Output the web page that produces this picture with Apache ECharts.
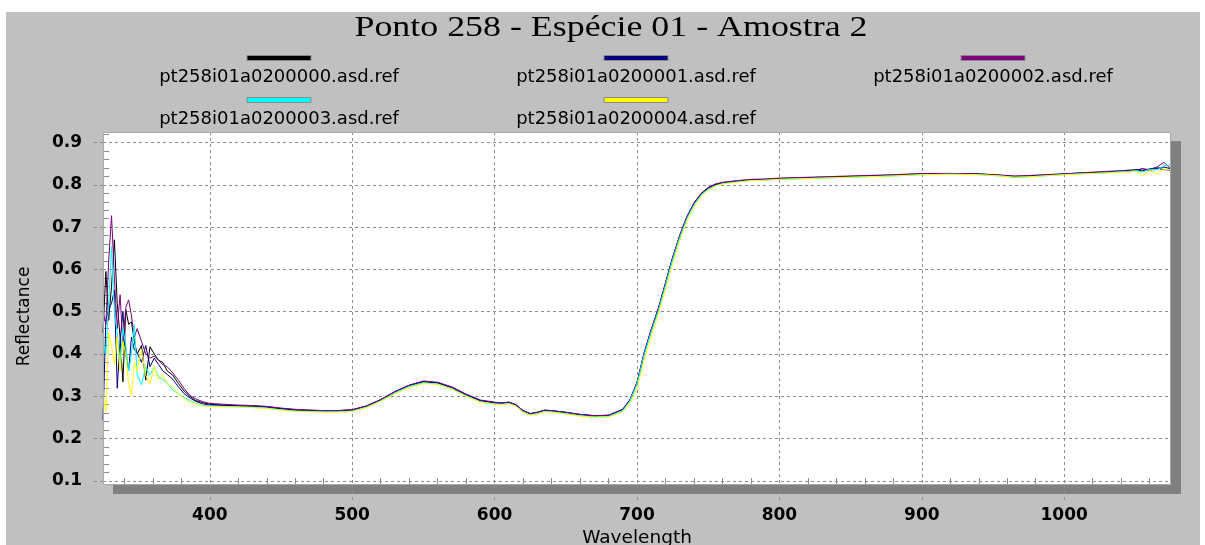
<!DOCTYPE html>
<html>
<head>
<meta charset="utf-8">
<script src="https://cdn.jsdelivr.net/npm/echarts@6/dist/echarts.min.js"></script>
<style>
  html, body { margin: 0; padding: 0; background: #ffffff; }
  #chart { position: absolute; left: 6px; top: 12px; width: 1194px; height: 533px; }
</style>
</head>
<body>
<div id="chart"></div>
<script>
// ---- chart text ----
const titleText = 'Ponto 258 - Espécie 01 - Amostra 2';
const xName = 'Wavelength';
const yName = 'Reflectance';
const seriesNames = [
  'pt258i01a0200000.asd.ref',
  'pt258i01a0200001.asd.ref',
  'pt258i01a0200002.asd.ref',
  'pt258i01a0200003.asd.ref',
  'pt258i01a0200004.asd.ref'
];
const seriesColors = ['#000000', '#000080', '#800080', '#00ffff', '#ffff00'];

// ---- axis ticks ----
const xTicks = [400, 500, 600, 700, 800, 900, 1000];
const yTicks = [0.1, 0.2, 0.3, 0.4, 0.5, 0.6, 0.7, 0.8, 0.9];

// ---- wavelengths (nm) shared by all spectra ----
const wavelengths = [
  325, 327, 329, 331, 333, 335, 337, 339, 341, 343, 345, 347, 349,
  352, 355, 358, 361, 364, 367, 370, 374, 378, 382, 386, 390, 395, 400,
  410, 420, 430, 440, 450, 460, 470, 480, 490, 500,
  510, 520, 530, 540, 550, 560, 570, 580, 590, 600,
  605, 610, 615, 620, 625, 630, 635, 640,
  650, 660, 670, 680, 690,
  695, 700, 705, 710, 715, 720, 725, 730, 735, 740, 745, 750, 755, 760,
  770, 780, 790, 800, 820, 840, 860, 880, 900, 920, 940, 955, 965, 975, 985,
  1000, 1010, 1020, 1030, 1040, 1045, 1050, 1055, 1060, 1065, 1070, 1075
];

// ---- reflectance of each file ----
const ref0 = [
  0.45, 0.595, 0.48, 0.56, 0.67, 0.52, 0.44, 0.334, 0.505, 0.47, 0.476, 0.43, 0.40,
  0.42, 0.338, 0.417, 0.40, 0.385, 0.38, 0.36, 0.35, 0.33, 0.312, 0.30, 0.29, 0.285, 0.281,
  0.279, 0.278, 0.277, 0.275, 0.271, 0.268, 0.267, 0.266, 0.266, 0.268,
  0.277, 0.292, 0.311, 0.326, 0.335, 0.332, 0.321, 0.304, 0.290, 0.285,
  0.284, 0.286, 0.280, 0.266, 0.259, 0.262, 0.267, 0.266,
  0.262, 0.257, 0.254, 0.255, 0.269,
  0.291, 0.332, 0.402, 0.458, 0.508, 0.568, 0.628, 0.680, 0.724, 0.757, 0.779, 0.793, 0.801, 0.805,
  0.809, 0.812, 0.813, 0.815, 0.817, 0.819, 0.821, 0.823, 0.826, 0.827, 0.826, 0.823, 0.820, 0.821, 0.823,
  0.826, 0.828, 0.829, 0.831, 0.833, 0.834, 0.836, 0.833, 0.838, 0.840, 0.836, 0.835
];
const ref1 = [
  0.244, 0.48, 0.505, 0.52, 0.551, 0.319, 0.43, 0.50, 0.40, 0.36, 0.44, 0.41, 0.403,
  0.38, 0.42, 0.37, 0.39, 0.375, 0.36, 0.352, 0.34, 0.322, 0.306, 0.296, 0.288, 0.282, 0.279,
  0.278, 0.277, 0.276, 0.274, 0.270, 0.267, 0.266, 0.265, 0.265, 0.267,
  0.276, 0.291, 0.310, 0.325, 0.334, 0.331, 0.320, 0.303, 0.289, 0.284,
  0.283, 0.285, 0.279, 0.265, 0.258, 0.261, 0.266, 0.265,
  0.261, 0.256, 0.253, 0.254, 0.268,
  0.290, 0.330, 0.400, 0.455, 0.505, 0.565, 0.625, 0.678, 0.722, 0.755, 0.778, 0.792, 0.800, 0.804,
  0.808, 0.811, 0.812, 0.814, 0.816, 0.818, 0.820, 0.822, 0.825, 0.826, 0.825, 0.822, 0.818, 0.820, 0.822,
  0.825, 0.827, 0.828, 0.829, 0.832, 0.833, 0.835, 0.838, 0.834, 0.839, 0.842, 0.838
];
const ref2 = [
  0.50, 0.47, 0.62, 0.727, 0.58, 0.46, 0.54, 0.42, 0.51, 0.528, 0.49, 0.44, 0.46,
  0.43, 0.40, 0.39, 0.395, 0.385, 0.375, 0.37, 0.355, 0.338, 0.318, 0.302, 0.294, 0.287, 0.283,
  0.281, 0.279, 0.278, 0.276, 0.272, 0.269, 0.267, 0.266, 0.266, 0.268,
  0.277, 0.292, 0.311, 0.326, 0.336, 0.333, 0.322, 0.305, 0.291, 0.286,
  0.284, 0.286, 0.280, 0.266, 0.259, 0.262, 0.267, 0.266,
  0.262, 0.257, 0.254, 0.255, 0.269,
  0.292, 0.333, 0.403, 0.458, 0.508, 0.568, 0.628, 0.681, 0.725, 0.757, 0.780, 0.794, 0.802, 0.806,
  0.810, 0.813, 0.814, 0.816, 0.818, 0.820, 0.822, 0.824, 0.827, 0.827, 0.826, 0.823, 0.821, 0.822, 0.824,
  0.826, 0.828, 0.830, 0.832, 0.833, 0.835, 0.833, 0.838, 0.836, 0.842, 0.853, 0.838
];
const ref3 = [
  0.43, 0.40, 0.52, 0.654, 0.50, 0.45, 0.38, 0.46, 0.42, 0.36, 0.40, 0.47, 0.35,
  0.327, 0.37, 0.35, 0.37, 0.345, 0.34, 0.33, 0.315, 0.305, 0.297, 0.29, 0.283, 0.278, 0.277,
  0.276, 0.275, 0.274, 0.272, 0.268, 0.265, 0.264, 0.263, 0.263, 0.265,
  0.274, 0.289, 0.308, 0.323, 0.332, 0.329, 0.318, 0.301, 0.287, 0.282,
  0.281, 0.283, 0.277, 0.263, 0.256, 0.259, 0.264, 0.263,
  0.259, 0.254, 0.251, 0.252, 0.266,
  0.289, 0.329, 0.398, 0.453, 0.503, 0.563, 0.623, 0.676, 0.720, 0.753, 0.776, 0.790, 0.798, 0.803,
  0.807, 0.810, 0.811, 0.813, 0.815, 0.817, 0.819, 0.821, 0.824, 0.825, 0.824, 0.821, 0.818, 0.819, 0.821,
  0.824, 0.826, 0.827, 0.829, 0.831, 0.831, 0.834, 0.830, 0.837, 0.835, 0.845, 0.848
];
const ref4 = [
  0.31, 0.263, 0.45, 0.42, 0.374, 0.44, 0.36, 0.43, 0.40, 0.33, 0.303, 0.38, 0.36,
  0.41, 0.35, 0.33, 0.37, 0.34, 0.35, 0.33, 0.32, 0.305, 0.295, 0.287, 0.282, 0.277, 0.276,
  0.275, 0.274, 0.273, 0.271, 0.267, 0.264, 0.263, 0.262, 0.262, 0.264,
  0.273, 0.288, 0.306, 0.321, 0.330, 0.328, 0.317, 0.300, 0.286, 0.281,
  0.280, 0.282, 0.276, 0.262, 0.255, 0.258, 0.263, 0.262,
  0.258, 0.253, 0.250, 0.251, 0.263,
  0.283, 0.318, 0.385, 0.442, 0.494, 0.553, 0.613, 0.668, 0.713, 0.748, 0.773, 0.788, 0.797, 0.802,
  0.806, 0.810, 0.811, 0.813, 0.815, 0.817, 0.819, 0.821, 0.824, 0.825, 0.824, 0.821, 0.818, 0.819, 0.821,
  0.824, 0.825, 0.827, 0.828, 0.830, 0.830, 0.832, 0.822, 0.834, 0.826, 0.837, 0.836
];
const spectra = [ref0, ref1, ref2, ref3, ref4];

// ---- layout (chart canvas sits 6px right / 12px down on the page) ----
const plot = { left: 97, top: 120, width: 1068, height: 353 };
const tickOut = { x: 15, y: 9 };
const legendCols = [273, 630, 987];
const legendBarY = [46, 88];
const legendTextY = [65, 107];
const gridColor = '#8c8c8c';
const frameColor = '#a8a8a8';
const sansFont = '"DejaVu Sans", "Liberation Sans", Arial, sans-serif';
const xRange = { min: 325, max: 1075, minInterval: 100, maxInterval: 100 };
const yRange = { min: 0.09, max: 0.925, minInterval: 0.1, maxInterval: 0.1 };

const chart = echarts.init(document.getElementById('chart'), null, { renderer: 'canvas' });

// title, legend and plot frame drawn as graphic elements
const graphics = [
  { type: 'text', x: 605, y: 16, scaleX: 1.237, silent: true,
    style: { text: titleText, font: '29px "Liberation Serif", "Times New Roman", serif', fill: '#000',
             align: 'center', verticalAlign: 'middle', textAlign: 'center', textVerticalAlign: 'middle' } },
  { type: 'rect', silent: true, z: 5,
    shape: { x: plot.left + 0.5, y: plot.top + 0.5, width: plot.width - 1, height: plot.height - 1 },
    style: { fill: null, stroke: frameColor, lineWidth: 1 } }
];
seriesNames.forEach((name, i) => {
  const cx = legendCols[i % 3];
  const row = Math.floor(i / 3);
  graphics.push({
    type: 'rect', silent: true,
    shape: { x: cx - 32, y: legendBarY[row] - 2.5, width: 64, height: 5 },
    style: { fill: seriesColors[i], stroke: '#8a8a8a', lineWidth: 1 }
  });
  graphics.push({
    type: 'text', x: cx, y: legendTextY[row], silent: true,
    style: { text: name, font: '18px ' + sansFont, fill: '#000',
             align: 'center', verticalAlign: 'middle', textAlign: 'center', textVerticalAlign: 'middle' }
  });
});

const dashed = () => ({ color: gridColor, type: [3, 3], width: 1 });
const bare = { axisLine: { show: false }, axisTick: { show: false }, axisLabel: { show: false } };
const dashedGrid = { show: true, showMinLine: false, showMaxLine: false, lineStyle: dashed() };

const option = {
  animation: false,
  backgroundColor: '#c0c0c0',
  graphic: { elements: graphics },
  grid: [
    // 0: main plot, white with a hard grey drop shadow
    {
      left: plot.left, top: plot.top, width: plot.width, height: plot.height,
      show: true, backgroundColor: '#ffffff', borderWidth: 0, borderColor: 'transparent',
      shadowColor: '#808080', shadowBlur: 0, shadowOffsetX: 10, shadowOffsetY: 9,
      containLabel: false, outerBoundsMode: 'none'
    },
    // 1: overlay carrying the inward minor ticks
    { left: plot.left, top: plot.top, width: plot.width, height: plot.height,
      show: false, containLabel: false, outerBoundsMode: 'none' },
    // 2: strip left of the plot where the value gridlines run out to the labels
    { left: plot.left - tickOut.y, top: plot.top, width: tickOut.y, height: plot.height,
      show: false, containLabel: false, outerBoundsMode: 'none' },
    // 3: strip below the plot where the wavelength gridlines run out
    { left: plot.left, top: plot.top + plot.height, width: plot.width, height: tickOut.x,
      show: false, containLabel: false, outerBoundsMode: 'none' }
  ],
  xAxis: [
    Object.assign({
      type: 'value', gridIndex: 0,
      name: xName, nameLocation: 'middle', nameGap: 44,
      nameTextStyle: { fontFamily: sansFont, fontSize: 18.5, color: '#000' },
      axisLine: { show: false },
      axisTick: { show: false },
      axisLabel: { customValues: xTicks, margin: 22, fontFamily: sansFont, fontWeight: 'bold',
                   fontSize: 17, color: '#000', formatter: v => String(v) },
      splitLine: dashedGrid
    }, xRange),
    Object.assign({
      type: 'value', gridIndex: 1, position: 'bottom',
      axisLine: { show: false }, axisLabel: { show: false }, splitLine: { show: false },
      axisTick: { show: false, inside: true },
      minorTick: { show: true, splitNumber: 5, length: 7, lineStyle: { color: gridColor, width: 1 } }
    }, xRange),
    Object.assign({ type: 'value', gridIndex: 2, show: false, min: 0, max: 1, splitLine: { show: false } }, bare),
    Object.assign({ type: 'value', gridIndex: 3, z: 10, splitLine: dashedGrid }, bare, xRange)
  ],
  yAxis: [
    Object.assign({
      type: 'value', gridIndex: 0,
      name: yName, nameLocation: 'middle', nameGap: 70, nameRotate: 90,
      nameTextStyle: { fontFamily: sansFont, fontSize: 17, color: '#000', padding: [0, 16, 0, 0] },
      axisLine: { show: false },
      axisTick: { show: false },
      axisLabel: { customValues: yTicks, margin: 21, fontFamily: sansFont, fontWeight: 'bold',
                   fontSize: 17, color: '#000', formatter: v => v.toFixed(1) },
      splitLine: dashedGrid
    }, yRange),
    Object.assign({
      type: 'value', gridIndex: 1, position: 'left',
      axisLine: { show: false }, axisLabel: { show: false }, splitLine: { show: false },
      axisTick: { show: false, inside: true },
      minorTick: { show: true, splitNumber: 5, length: 6, lineStyle: { color: gridColor, width: 1 } }
    }, yRange),
    Object.assign({ type: 'value', gridIndex: 2, splitLine: dashedGrid }, bare, yRange),
    Object.assign({ type: 'value', gridIndex: 3, show: false, min: 0, max: 1, splitLine: { show: false } }, bare)
  ],
  series: spectra.map((vals, i) => ({
    type: 'line',
    name: seriesNames[i],
    xAxisIndex: 0,
    yAxisIndex: 0,
    data: wavelengths.map((w, k) => [w, vals[k]]),
    showSymbol: false,
    symbol: 'none',
    silent: true,
    clip: true,
    lineStyle: { width: 1, color: seriesColors[i] },
    itemStyle: { color: seriesColors[i] }
  }))
};

chart.setOption(option);
</script>
</body>
</html>
